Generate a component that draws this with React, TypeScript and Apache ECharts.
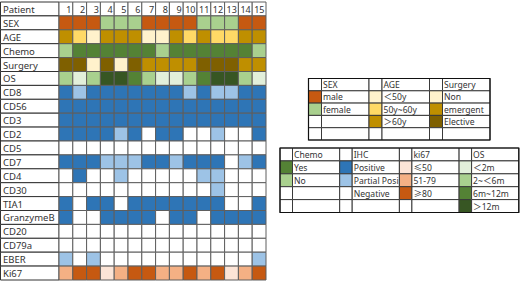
import React, { useEffect, useRef } from 'react';
import * as echarts from 'echarts';

const FONT = "'Noto Sans', 'Noto Sans CJK SC', sans-serif";

const patients = ['1', '2', '3', '4', '5', '6', '7', '8', '9', '10', '11', '12', '13', '14', '15'];

const sex = ['male', 'male', 'male', 'female', 'female', 'female', 'male', 'male', 'male', 'male', 'female', 'female', 'female', 'male', 'male'];
const age = ['>60y', '50-60y', '<50y', '>60y', '>60y', '>60y', '<50y', '<50y', '>60y', '50-60y', '>60y', '50-60y', '50-60y', '>60y', '>60y'];
const chemo = ['No', 'Yes', 'Yes', 'Yes', 'Yes', 'Yes', 'Yes', 'No', 'Yes', 'Yes', 'Yes', 'Yes', 'Yes', 'Yes', 'No'];
const surgery = ['Elective', 'Elective', 'Non', 'Elective', 'Non', 'Elective', 'emergent', 'emergent', 'emergent', 'emergent', 'Elective', 'Elective', 'Elective', 'emergent', 'emergent'];
const os = ['2-6m', '<2m', '2-6m', '>12m', '>12m', '6-12m', '2-6m', '<2m', '<2m', '2-6m', '6-12m', '>12m', '>12m', '2-6m', '<2m'];
const cd8 = ['P', 'PP', 'P', 'P', 'P', 'P', 'P', 'P', 'P', 'PP', 'P', 'PP', 'PP', 'P', 'P'];
const cd56 = ['P', 'P', 'P', 'P', 'P', 'P', 'P', 'P', 'P', 'P', 'P', 'P', 'P', 'P', 'P'];
const cd3 = ['P', 'P', 'P', 'P', 'P', 'P', 'P', 'P', 'P', 'P', 'P', 'P', 'P', 'P', 'P'];
const cd2 = ['P', 'P', 'P', 'P', 'PP', 'P', 'N', 'P', 'P', 'N', 'N', 'PP', 'N', 'N', 'P'];
const cd5 = ['N', 'N', 'N', 'N', 'N', 'N', 'N', 'N', 'N', 'N', 'N', 'N', 'N', 'N', 'N'];
const cd7 = ['P', 'P', 'P', 'PP', 'PP', 'PP', 'P', 'P', 'PP', 'P', 'P', 'P', 'N', 'PP', 'P'];
const cd4 = ['N', 'P', 'N', 'N', 'PP', 'N', 'N', 'N', 'N', 'N', 'PP', 'PP', 'N', 'N', 'N'];
const cd30 = ['N', 'N', 'N', 'N', 'N', 'N', 'N', 'N', 'N', 'N', 'N', 'PP', 'N', 'N', 'N'];
const tia1 = ['P', 'N', 'P', 'P', 'N', 'P', 'P', 'P', 'P', 'P', 'P', 'P', 'N', 'N', 'P'];
const granzymeB = ['P', 'N', 'N', 'P', 'P', 'P', 'P', 'N', 'P', 'P', 'N', 'P', 'P', 'P', 'P'];
const cd20 = ['N', 'N', 'N', 'N', 'N', 'N', 'N', 'N', 'N', 'N', 'N', 'N', 'N', 'N', 'N'];
const cd79a = ['N', 'N', 'N', 'N', 'N', 'N', 'N', 'N', 'N', 'N', 'N', 'N', 'N', 'N', 'N'];
const eber = ['PP', 'N', 'PP', 'N', 'N', 'N', 'N', 'N', 'N', 'N', 'N', 'N', 'N', 'N', 'PP'];
const ki67 = ['51-79', '>=80', '>=80', '<=50', '51-79', '>=80', '>=80', '51-79', '51-79', '>=80', '51-79', '>=80', '<=50', '51-79', '>=80'];

const sexColors: Record<string, string> = { male: '#C65911', female: '#A9D08E' };
const ageColors: Record<string, string> = { '<50y': '#FFF2CC', '50-60y': '#FFD966', '>60y': '#BF8F00' };
const chemoColors: Record<string, string> = { Yes: '#548235', No: '#A9D08E' };
const surgeryColors: Record<string, string> = { Non: '#FFF2CC', emergent: '#BF8F00', Elective: '#7F6000' };
const osColors: Record<string, string> = { '<2m': '#E2EFDA', '2-6m': '#A9D08E', '6-12m': '#548235', '>12m': '#375623' };
const ihcColors: Record<string, string> = { P: '#2E75B6', PP: '#9DC3E6', N: '#FFFFFF' };
const ki67Colors: Record<string, string> = { '<=50': '#FCE4D6', '51-79': '#F4B084', '>=80': '#C65911' };

const rows: { name: string; vals: string[]; pal: Record<string, string> }[] = [
  { name: 'SEX', vals: sex, pal: sexColors },
  { name: 'AGE', vals: age, pal: ageColors },
  { name: 'Chemo', vals: chemo, pal: chemoColors },
  { name: 'Surgery', vals: surgery, pal: surgeryColors },
  { name: 'OS', vals: os, pal: osColors },
  { name: 'CD8', vals: cd8, pal: ihcColors },
  { name: 'CD56', vals: cd56, pal: ihcColors },
  { name: 'CD3', vals: cd3, pal: ihcColors },
  { name: 'CD2', vals: cd2, pal: ihcColors },
  { name: 'CD5', vals: cd5, pal: ihcColors },
  { name: 'CD7', vals: cd7, pal: ihcColors },
  { name: 'CD4', vals: cd4, pal: ihcColors },
  { name: 'CD30', vals: cd30, pal: ihcColors },
  { name: 'TIA1', vals: tia1, pal: ihcColors },
  { name: 'GranzymeB', vals: granzymeB, pal: ihcColors },
  { name: 'CD20', vals: cd20, pal: ihcColors },
  { name: 'CD79a', vals: cd79a, pal: ihcColors },
  { name: 'EBER', vals: eber, pal: ihcColors },
  { name: 'Ki67', vals: ki67, pal: ki67Colors },
];

const rowNames = ['Patient', ...rows.map((r) => r.name)];

type Group = { title: string; items: [string, string][] };

const legendTable1: Group[] = [
  { title: 'SEX', items: [[sexColors.male, 'male'], [sexColors.female, 'female']] },
  { title: 'AGE', items: [[ageColors['<50y'], '＜50y'], [ageColors['50-60y'], '50y~60y'], [ageColors['>60y'], '＞60y']] },
  { title: 'Surgery', items: [[surgeryColors.Non, 'Non'], [surgeryColors.emergent, 'emergent'], [surgeryColors.Elective, 'Elective']] },
];

const legendTable2: Group[] = [
  { title: 'Chemo', items: [[chemoColors.Yes, 'Yes'], [chemoColors.No, 'No']] },
  { title: 'IHC', items: [[ihcColors.P, 'Positive'], [ihcColors.PP, 'Partial Posi'], [ihcColors.N, 'Negative']] },
  { title: 'ki67', items: [[ki67Colors['<=50'], '≤50'], [ki67Colors['51-79'], '51-79'], [ki67Colors['>=80'], '≥80']] },
  { title: 'OS', items: [[osColors['<2m'], '＜2m'], [osColors['2-6m'], '2~＜6m'], [osColors['6-12m'], '6m~12m'], [osColors['>12m'], '＞12m']] },
];

function buildTable(x0: number, y0: number, rowH: number, swW: number, labW: number, groups: Group[], nRows: number) {
  const els: any[] = [];
  const gw = swW + labW;
  groups.forEach((g, gi) => {
    const gx = x0 + gi * gw;
    for (let r = 0; r < nRows; r++) {
      const y = y0 + r * rowH;
      const item = r > 0 ? g.items[r - 1] : undefined;
      els.push({
        type: 'rect',
        shape: { x: gx, y, width: swW, height: rowH },
        style: { fill: item ? item[0] : '#fff', stroke: '#3a3a3a', lineWidth: 1 },
        silent: true,
      });
      els.push({
        type: 'rect',
        shape: { x: gx + swW, y, width: labW, height: rowH },
        style: { fill: '#fff', stroke: '#3a3a3a', lineWidth: 1 },
        silent: true,
      });
      const txt = r === 0 ? g.title : item ? item[1] : '';
      if (txt) {
        els.push({
          type: 'text',
          x: gx + swW + 1.5,
          y: y + rowH / 2 + 0.5,
          style: {
            text: txt,
            fill: '#333',
            font: `8.6px ${FONT}`,
            textVerticalAlign: 'middle',
            verticalAlign: 'middle',
          },
          silent: true,
          z: 10,
        });
      }
    }
  });
  els.push({
    type: 'rect',
    shape: { x: x0, y: y0, width: gw * groups.length, height: rowH * nRows },
    style: { fill: 'none', stroke: '#111', lineWidth: 1.2 },
    silent: true,
    z: 11,
  });
  return els;
}

export default function App() {
  const ref = useRef<HTMLDivElement>(null);
  useEffect(() => {
    if (!ref.current) return;
    const chart = echarts.init(ref.current, undefined, { renderer: 'svg' });

    const cellData: number[][] = [];
    const cellColor: string[] = [];
    const cellLabel: string[] = [];
    patients.forEach((p, i) => {
      cellData.push([i, 0]);
      cellColor.push('#fff');
      cellLabel.push(p);
    });
    rows.forEach((r, ri) => {
      r.vals.forEach((v, i) => {
        cellData.push([i, ri + 1]);
        cellColor.push(r.pal[v]);
        cellLabel.push('');
      });
    });

    const labelCellData = rowNames.map((n, i) => [0, i]);

    const option: any = {
      animation: false,
      backgroundColor: '#fff',
      grid: [
        { left: 0.5, top: 2, width: 58.5, height: 278 },
        { left: 59, top: 2, width: 207, height: 278 },
      ],
      xAxis: [
        { type: 'category', gridIndex: 0, data: ['label'], show: false },
        { type: 'category', gridIndex: 1, data: patients, show: false },
      ],
      yAxis: [
        { type: 'category', gridIndex: 0, data: rowNames, inverse: true, show: false },
        { type: 'category', gridIndex: 1, data: rowNames, inverse: true, show: false },
      ],
      series: [
        {
          type: 'custom',
          xAxisIndex: 0,
          yAxisIndex: 0,
          data: labelCellData,
          silent: true,
          renderItem: (params: any, api: any) => {
            const c = api.coord([api.value(0), api.value(1)]);
            const s = api.size([1, 1]);
            const x = c[0] - s[0] / 2;
            const y = c[1] - s[1] / 2;
            return {
              type: 'group',
              children: [
                {
                  type: 'rect',
                  shape: { x, y, width: s[0], height: s[1] },
                  style: { fill: '#fff', stroke: '#333', lineWidth: 1 },
                },
                {
                  type: 'text',
                  x: x + 2.5,
                  y: c[1] + 0.5,
                  style: {
                    text: rowNames[params.dataIndex],
                    fill: '#333',
                    font: `9.5px ${FONT}`,
                    verticalAlign: 'middle',
                    align: 'left',
                  },
                },
              ],
            };
          },
        },
        {
          type: 'custom',
          xAxisIndex: 1,
          yAxisIndex: 1,
          data: cellData,
          silent: true,
          renderItem: (params: any, api: any) => {
            const c = api.coord([api.value(0), api.value(1)]);
            const s = api.size([1, 1]);
            const x = c[0] - s[0] / 2;
            const y = c[1] - s[1] / 2;
            const children: any[] = [
              {
                type: 'rect',
                shape: { x, y, width: s[0], height: s[1] },
                style: { fill: cellColor[params.dataIndex], stroke: '#5e5e5e', lineWidth: 1 },
              },
            ];
            const lab = cellLabel[params.dataIndex];
            if (lab) {
              children.push({
                type: 'text',
                x: x + s[0] - 1.5,
                y: c[1] + 0.5,
                style: {
                  text: lab,
                  fill: '#333',
                  font: `9px ${FONT}`,
                  verticalAlign: 'middle',
                  align: 'right',
                },
              });
            }
            return { type: 'group', children };
          },
        },
      ],
      graphic: [
        ...buildTable(308.5, 78.5, 12.3, 13, 47.5, legendTable1, 5),
        ...buildTable(280, 148, 12.9, 12.5, 47.2, legendTable2, 5),
      ],
    };
    chart.setOption(option);
    return () => chart.dispose();
  }, []);
  return <div ref={ref} style={{ position: 'absolute', left: 0, top: 0, width: 520, height: 282 }} />;
}
